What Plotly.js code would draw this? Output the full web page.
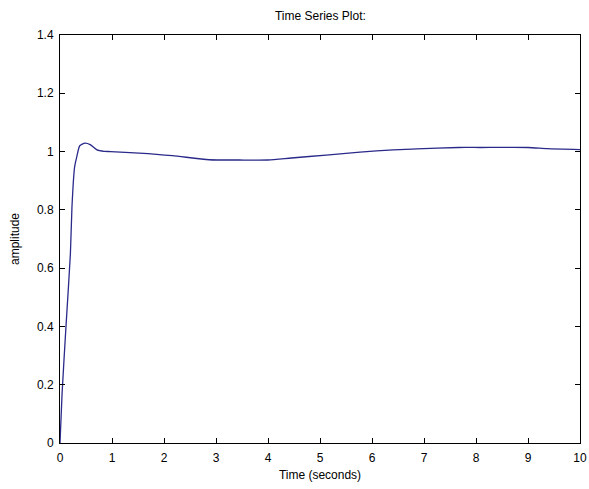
<!DOCTYPE html>
<html>
<head>
<meta charset="utf-8">
<script src="https://cdn.plot.ly/plotly-3.0.1.min.js"></script>
<style>html,body{margin:0;padding:0;background:#fff;}#chart{width:589px;height:489px;}</style>
</head>
<body>
<div id="chart"></div>
<script>
var timeSeconds = [0, 0.04, 0.115, 0.2, 0.23, 0.28, 0.32, 0.38, 0.48, 0.58, 0.71, 0.85, 0.97, 1.52, 2.16, 2.87, 3.45, 4.0, 4.45, 5.12, 5.77, 6.41, 6.86, 7.66, 8.08, 9.0, 9.37, 10];
var amplitude = [0, 0.17, 0.40, 0.65, 0.81, 0.946, 0.98, 1.02, 1.029, 1.024, 1.006, 1.001, 1.0, 0.995, 0.986, 0.972, 0.971, 0.971, 0.978, 0.988, 0.998, 1.006, 1.009, 1.014, 1.014, 1.014, 1.01, 1.007];
var xTicks = [0, 1, 2, 3, 4, 5, 6, 7, 8, 9, 10];
var yTicks = [0, 0.2, 0.4, 0.6, 0.8, 1, 1.2, 1.4];
var yTickLabels = ['0', '0.2', '0.4', '0.6', '0.8', '1', '1.2', '1.4'];

var fontFam = 'Liberation Sans, Arial, sans-serif';
var trace = {
  x: timeSeconds, y: amplitude, type: 'scatter', mode: 'lines',
  line: {color: '#2a2a8a', width: 1.3, shape: 'spline', smoothing: 0.6},
  hoverinfo: 'skip'
};
var axisCommon = {
  showgrid: false, zeroline: false, showline: true, linecolor: '#000', linewidth: 1,
  mirror: 'ticks', ticks: 'inside', ticklen: 5, tickcolor: '#000', tickwidth: 1,
  tickfont: {family: fontFam, size: 12, color: '#000'}
};
var layout = {
  width: 589, height: 489,
  margin: {l: 60, r: 9, t: 35, b: 46, pad: 0},
  paper_bgcolor: '#fff', plot_bgcolor: '#fff',
  showlegend: false,
  title: {text: 'Time Series Plot:', font: {family: fontFam, size: 12, color: '#000'}, x: 0.544, xanchor: 'center', y: 0.967, yanchor: 'middle'},
  xaxis: Object.assign({}, axisCommon, {
    range: [0, 10], tickvals: xTicks, ticktext: xTicks.map(String), ticklabelstandoff: 4,
    title: {text: 'Time (seconds)', font: {family: fontFam, size: 12, color: '#000'}, standoff: 6}
  }),
  yaxis: Object.assign({}, axisCommon, {
    range: [0, 1.4], tickvals: yTicks, ticktext: yTickLabels, ticklabelstandoff: 3,
    title: {text: 'amplitude', font: {family: fontFam, size: 12, color: '#000'}, standoff: 14}
  })
};
Plotly.newPlot('chart', [trace], layout, {displayModeBar: false, staticPlot: true});
</script>
</body>
</html>
